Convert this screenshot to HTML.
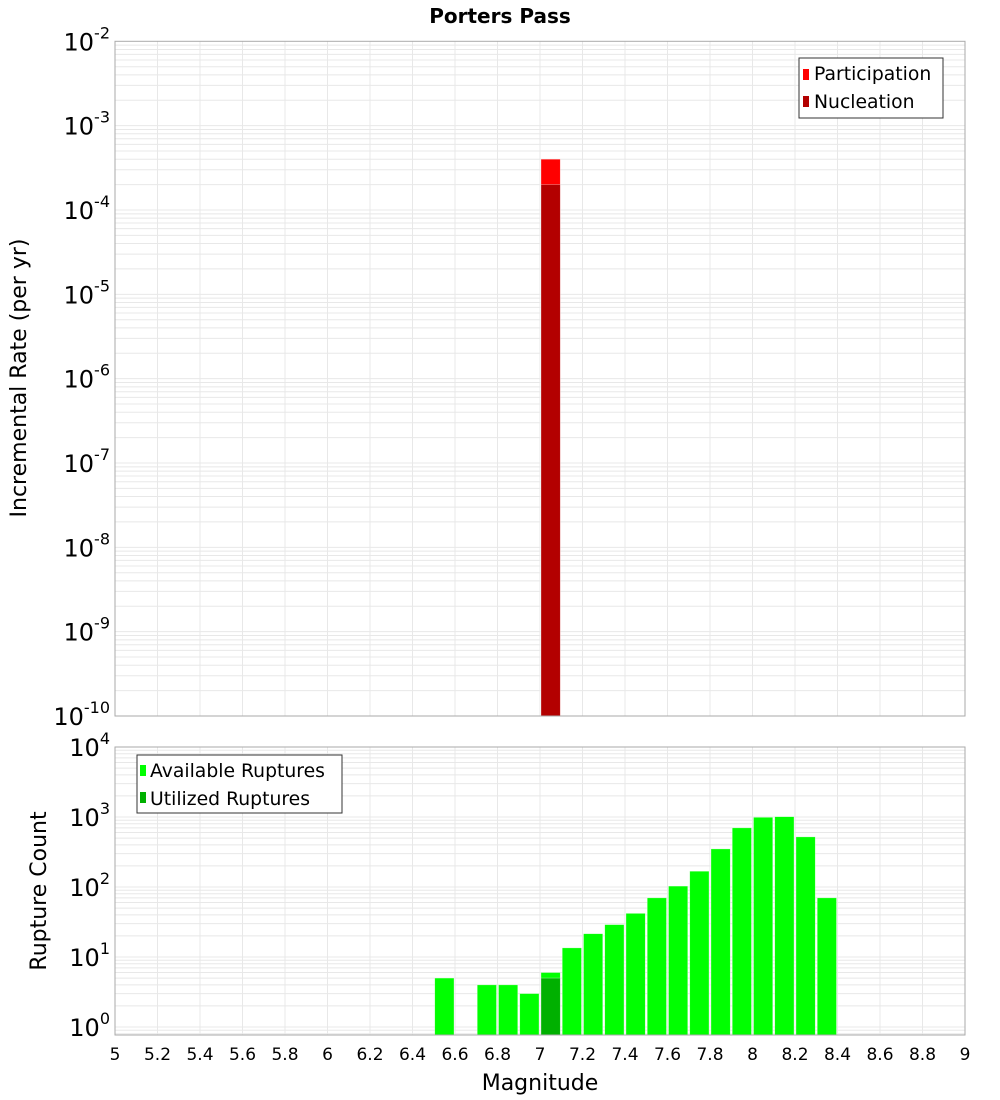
<!DOCTYPE html>
<html><head><meta charset="utf-8"><style>
body{margin:0;background:#fff}
svg{display:block;font-family:"DejaVu Sans","Liberation Sans",sans-serif}
</style></head><body>
<svg id="c" width="1000" height="1100" xmlns="http://www.w3.org/2000/svg">
<text x="500" y="23" text-anchor="middle" font-size="20" font-weight="bold">Porters Pass</text>
<g id="topg"></g>
<g id="botg"></g>
<text transform="translate(26,378) rotate(-90)" text-anchor="middle" font-size="22">Incremental Rate (per yr)</text>
<text transform="translate(46,891) rotate(-90)" text-anchor="middle" font-size="22">Rupture Count</text>
<text x="540" y="1090" text-anchor="middle" font-size="22">Magnitude</text>
<g>
<rect x="799" y="58" width="144" height="60" fill="#fff" stroke="#333" stroke-width="1"/>
<rect x="803" y="69" width="6" height="11" fill="#ff0000"/>
<text x="814" y="80" font-size="18.8">Participation</text>
<rect x="803" y="96" width="6" height="11" fill="#b30000"/>
<text x="814" y="108" font-size="18.8">Nucleation</text>
</g>
<g>
<rect x="137" y="755" width="205" height="58" fill="#fff" stroke="#333" stroke-width="1"/>
<rect x="140" y="765" width="6" height="11" fill="#00ff00"/>
<text x="150" y="777" font-size="18.8">Available Ruptures</text>
<rect x="140" y="792" width="6" height="11" fill="#00b000"/>
<text x="150" y="805" font-size="18.8">Utilized Ruptures</text>
</g>
</svg>
<script>
const xTicks=["5","5.2","5.4","5.6","5.8","6","6.2","6.4","6.6","6.8","7","7.2","7.4","7.6","7.8","8","8.2","8.4","8.6","8.8","9"];
const rateMags=[7.05];
const participation=[4.0e-4];
const nucleation=[2.0e-4];
const countMags=[6.55,6.75,6.85,6.95,7.05,7.15,7.25,7.35,7.45,7.55,7.65,7.75,7.85,7.95,8.05,8.15,8.25,8.35];
const available=[5,4,4,3,6,13.5,21.5,29,42,70,103,168,350,700,990,1010,520,70];
const utilizedMags=[7.05];
const utilized=[5];
const rateExps=[-2,-3,-4,-5,-6,-7,-8,-9,-10];
const countExps=[4,3,2,1,0];

const NS="http://www.w3.org/2000/svg";
const L=115,R=965;
const xs=m=>L+(m-5)/4*(R-L);
const T1=41.3,B1=716;
const y1=v=>T1+(-2-Math.log10(v))*(B1-T1)/8;
const T2=747,B2=1035,DEC2=70;
const y2=v=>T2+(4-Math.log10(v))*DEC2;
function mk(p,tag,a){const e=document.createElementNS(NS,tag);for(const k in a)e.setAttribute(k,a[k]);p.appendChild(e);return e;}
function grid(g,t,b,yf,loE,hiE){
  mk(g,'rect',{x:L,y:t,width:R-L,height:b-t,fill:'#fff'});
  for(let e=loE;e<=hiE;e++)for(let k=1;k<10;k++){const y=yf(k*Math.pow(10,e));if(y<t-0.5||y>b+0.5)continue;
    const l=mk(g,'line',{x1:L,x2:R,y1:y,y2:y,stroke:'#e8e8e8','stroke-width':1});
    
    }
  for(let i=0;i<xTicks.length;i++){const x=xs(parseFloat(xTicks[i]));
    const l=mk(g,'line',{x1:x,x2:x,y1:t,y2:b,stroke:'#e8e8e8','stroke-width':1});
    
    }
}
function frame(g,t,b){const r=mk(g,'rect',{x:L,y:t,width:R-L,height:b-t,fill:'none',stroke:'#aaa','stroke-width':1});
  
  }
function ylab(g,y,e){const t=mk(g,'text',{x:110,y:y+9,'text-anchor':'end','font-size':24});
  
  
  t.textContent='10';
  const s=mk(t,'tspan',{dy:-12,'font-size':16});s.textContent=String(e);}
function bar(g,m,v,yf,b,fill,name){const x0=xs(m-0.05)+1,x1=xs(m+0.05)-1;const y=yf(v);
  const r=mk(g,'rect',{x:x0,y:y,width:x1-x0,height:b-y,fill:fill,stroke:'#fff','stroke-opacity':0.5,'stroke-width':0.6});
  
  }
const topG=document.getElementById('topg'),botG=document.getElementById('botg');
grid(topG,T1,B1,y1,-10,-3);
rateMags.forEach((m,i)=>{bar(topG,m,participation[i],y1,B1,'#ff0000','bar-participation');});
rateMags.forEach((m,i)=>{bar(topG,m,nucleation[i],y1,B1,'#b30000','bar-nucleation');});
frame(topG,T1,B1);
rateExps.forEach(e=>ylab(topG,y1(Math.pow(10,e)),e));
grid(botG,T2,B2,y2,-1,3);
countMags.forEach((m,i)=>{bar(botG,m,available[i],y2,B2,'#00ff00','bar-available');});
utilizedMags.forEach((m,i)=>{bar(botG,m,utilized[i],y2,B2,'#00b000','bar-utilized');});
frame(botG,T2,B2);
countExps.forEach(e=>ylab(botG,y2(Math.pow(10,e)),e));
xTicks.forEach(t=>{const e=mk(botG,'text',{x:xs(parseFloat(t)),y:1060,'text-anchor':'middle','font-size':17});
  
  
  e.textContent=t;});
</script>
</body></html>
